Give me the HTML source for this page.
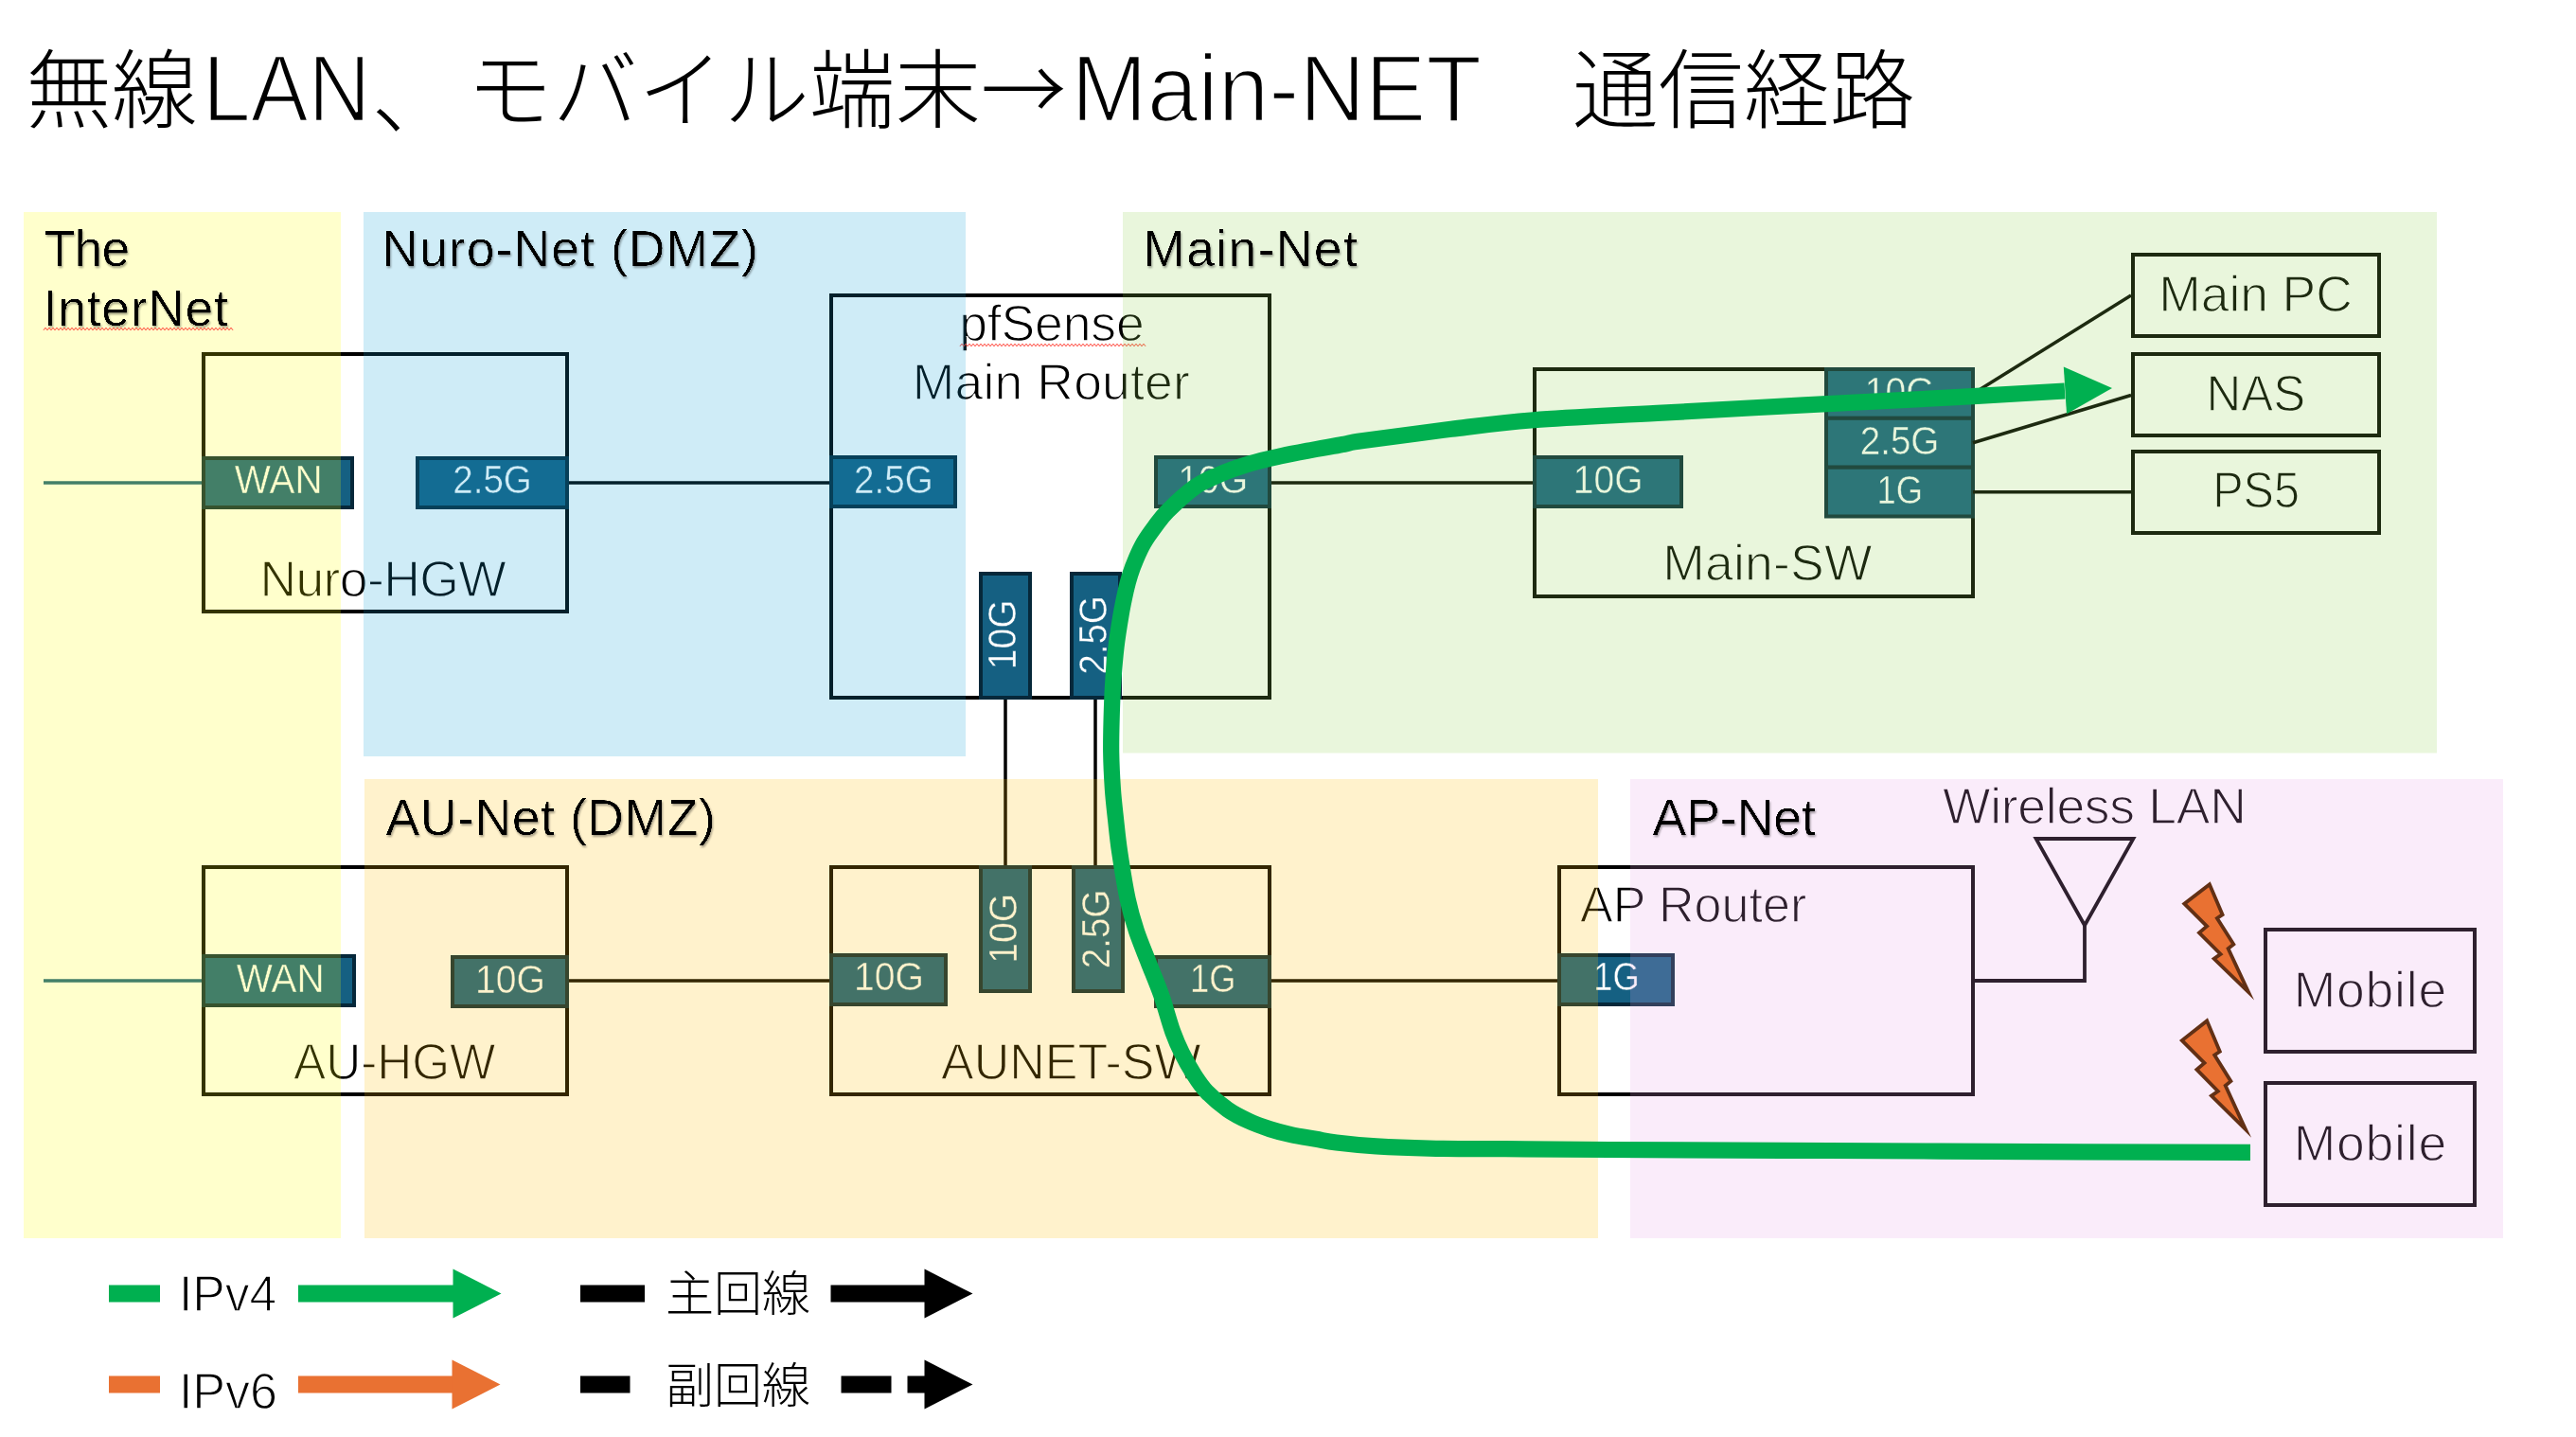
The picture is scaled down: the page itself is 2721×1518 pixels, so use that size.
<!DOCTYPE html>
<html lang="ja"><head><meta charset="utf-8"><title>無線LAN、モバイル端末→Main-NET 通信経路</title>
<style>html,body{margin:0;padding:0;background:#fff;}body{width:2721px;height:1518px;overflow:hidden;}svg{display:block;font-family:'Liberation Sans', 'Noto Sans CJK JP', sans-serif;}</style></head><body>
<svg width="2721" height="1518" viewBox="0 0 2721 1518">
<rect width="2721" height="1518" fill="#fff"/>
<defs><filter id="zlf" x="-2%" y="-5%" width="104%" height="110%" color-interpolation-filters="sRGB"><feGaussianBlur in="SourceAlpha" stdDeviation="0.7" result="b"/><feComponentTransfer in="b" result="thin"><feFuncA type="linear" slope="4" intercept="-2.7"/></feComponentTransfer><feGaussianBlur in="thin" stdDeviation="1.3" result="sb"/><feOffset in="sb" dx="1.2" dy="1.7" result="so"/><feComponentTransfer in="so" result="sh"><feFuncA type="linear" slope="0.36"/></feComponentTransfer><feMerge><feMergeNode in="sh"/><feMergeNode in="thin"/></feMerge></filter></defs>
<g id="devices">
<line x1="46" y1="510" x2="213" y2="510" stroke="#156082" stroke-width="3.5"/>
<line x1="46" y1="1036" x2="213" y2="1036" stroke="#156082" stroke-width="3.5"/>
<line x1="601" y1="510" x2="876" y2="510" stroke="#000" stroke-width="3.5"/>
<line x1="1343" y1="510" x2="1619" y2="510" stroke="#000" stroke-width="3.5"/>
<line x1="601" y1="1036" x2="876" y2="1036" stroke="#000" stroke-width="3.5"/>
<line x1="1343" y1="1036" x2="1645" y2="1036" stroke="#000" stroke-width="3.5"/>
<line x1="1062" y1="739" x2="1062" y2="914" stroke="#000" stroke-width="3.5"/>
<line x1="1157" y1="739" x2="1157" y2="914" stroke="#000" stroke-width="3.5"/>
<polyline points="2086,1036 2202,1036 2202,977" fill="none" stroke="#000" stroke-width="3.8"/>
<polygon points="2150.6,886 2253.4,886 2202,977.5" fill="none" stroke="#000" stroke-width="3.8" stroke-linejoin="miter"/>
<rect x="215.00" y="374.00" width="384.00" height="272.00" fill="none" stroke="#000" stroke-width="4"/>
<rect x="878.00" y="312.00" width="463.00" height="425.00" fill="none" stroke="#000" stroke-width="4"/>
<rect x="1621.00" y="390.00" width="463.00" height="240.00" fill="none" stroke="#000" stroke-width="4"/>
<rect x="2253.00" y="269.00" width="260.00" height="86.00" fill="none" stroke="#000" stroke-width="4"/>
<rect x="2253.00" y="374.00" width="260.00" height="86.00" fill="none" stroke="#000" stroke-width="4"/>
<rect x="2253.00" y="477.00" width="260.00" height="86.00" fill="none" stroke="#000" stroke-width="4"/>
<rect x="215.00" y="916.00" width="384.00" height="240.00" fill="none" stroke="#000" stroke-width="4"/>
<rect x="878.00" y="916.00" width="463.00" height="240.00" fill="none" stroke="#000" stroke-width="4"/>
<rect x="1647.00" y="916.00" width="437.00" height="240.00" fill="none" stroke="#000" stroke-width="4"/>
<rect x="2393.00" y="982.00" width="221.00" height="129.00" fill="none" stroke="#000" stroke-width="4"/>
<rect x="2393.00" y="1144.00" width="221.00" height="129.00" fill="none" stroke="#000" stroke-width="4"/>
<rect x="215.00" y="484.00" width="157.00" height="52.00" fill="#156082" stroke="#06283a" stroke-width="4"/>
<rect x="441.00" y="484.00" width="158.00" height="52.00" fill="#156082" stroke="#06283a" stroke-width="4"/>
<rect x="878.00" y="483.00" width="131.00" height="52.00" fill="#156082" stroke="#06283a" stroke-width="4"/>
<rect x="1221.00" y="483.00" width="120.00" height="52.00" fill="#156082" stroke="#06283a" stroke-width="4"/>
<rect x="1036.00" y="606.00" width="52.00" height="131.00" fill="#156082" stroke="#06283a" stroke-width="4"/>
<rect x="1132.00" y="606.00" width="51.00" height="131.00" fill="#156082" stroke="#06283a" stroke-width="4"/>
<rect x="1621.00" y="483.00" width="155.00" height="52.00" fill="#156082" stroke="#06283a" stroke-width="4"/>
<rect x="1929.00" y="390.00" width="155.00" height="51.80" fill="#156082" stroke="#06283a" stroke-width="4"/>
<rect x="1929.00" y="441.80" width="155.00" height="51.90" fill="#156082" stroke="#06283a" stroke-width="4"/>
<rect x="1929.00" y="493.70" width="155.00" height="51.80" fill="#156082" stroke="#06283a" stroke-width="4"/>
<rect x="215.00" y="1010.00" width="159.00" height="52.00" fill="#156082" stroke="#06283a" stroke-width="4"/>
<rect x="478.00" y="1011.00" width="121.00" height="52.00" fill="#156082" stroke="#06283a" stroke-width="4"/>
<rect x="878.00" y="1009.00" width="121.00" height="52.00" fill="#156082" stroke="#06283a" stroke-width="4"/>
<rect x="1036.00" y="916.00" width="52.00" height="131.00" fill="#156082" stroke="#06283a" stroke-width="4"/>
<rect x="1134.00" y="916.00" width="52.00" height="131.00" fill="#156082" stroke="#06283a" stroke-width="4"/>
<rect x="1221.00" y="1011.00" width="120.00" height="52.00" fill="#156082" stroke="#06283a" stroke-width="4"/>
<rect x="1647.00" y="1009.00" width="120.00" height="52.00" fill="#156082" stroke="#06283a" stroke-width="4"/>
<line x1="2084" y1="415.9" x2="2251" y2="312" stroke="#000" stroke-width="3.5"/>
<line x1="2084" y1="467.7" x2="2251" y2="417.5" stroke="#000" stroke-width="3.5"/>
<line x1="2084" y1="519.8" x2="2251" y2="519.8" stroke="#000" stroke-width="3.5"/>
<g id="port-labels" opacity="0.999">
<text x="247.8" y="521" font-size="42" textLength="92.8" lengthAdjust="spacingAndGlyphs" fill="#fff" stroke="#156082" stroke-width="0.5">WAN</text>
<text x="478.2" y="521" font-size="42" textLength="83.7" lengthAdjust="spacingAndGlyphs" fill="#fff" stroke="#156082" stroke-width="0.5">2.5G</text>
<text x="902.1" y="521" font-size="42" textLength="83.7" lengthAdjust="spacingAndGlyphs" fill="#fff" stroke="#156082" stroke-width="0.5">2.5G</text>
<text x="1244.3" y="521" font-size="42" textLength="73.9" lengthAdjust="spacingAndGlyphs" fill="#fff" stroke="#156082" stroke-width="0.5">10G</text>
<text x="1661.8" y="521" font-size="42" textLength="73.9" lengthAdjust="spacingAndGlyphs" fill="#fff" stroke="#156082" stroke-width="0.5">10G</text>
<text x="1969.8" y="427.6" font-size="42" textLength="73.9" lengthAdjust="spacingAndGlyphs" fill="#fff" stroke="#156082" stroke-width="0.5">10G</text>
<text x="1964.7" y="480" font-size="42" textLength="83.7" lengthAdjust="spacingAndGlyphs" fill="#fff" stroke="#156082" stroke-width="0.5">2.5G</text>
<text x="1982.5" y="532.2" font-size="42" textLength="48.5" lengthAdjust="spacingAndGlyphs" fill="#fff" stroke="#156082" stroke-width="0.5">1G</text>
<text x="249.8" y="1047.5" font-size="42" textLength="92.8" lengthAdjust="spacingAndGlyphs" fill="#fff" stroke="#156082" stroke-width="0.5">WAN</text>
<text x="502.0" y="1048.5" font-size="42" textLength="73.9" lengthAdjust="spacingAndGlyphs" fill="#fff" stroke="#156082" stroke-width="0.5">10G</text>
<text x="902.1" y="1045.5" font-size="42" textLength="73.9" lengthAdjust="spacingAndGlyphs" fill="#fff" stroke="#156082" stroke-width="0.5">10G</text>
<text x="1257.0" y="1048" font-size="42" textLength="48.5" lengthAdjust="spacingAndGlyphs" fill="#fff" stroke="#156082" stroke-width="0.5">1G</text>
<text x="1683.2" y="1045.5" font-size="42" textLength="48.5" lengthAdjust="spacingAndGlyphs" fill="#fff" stroke="#156082" stroke-width="0.5">1G</text>
<text transform="translate(1073.3 707.2) rotate(-90)" font-size="42" textLength="73.9" lengthAdjust="spacingAndGlyphs" fill="#fff" stroke="#156082" stroke-width="0.5">10G</text>
<text transform="translate(1169.4 712.8) rotate(-90)" font-size="42" textLength="83.7" lengthAdjust="spacingAndGlyphs" fill="#fff" stroke="#156082" stroke-width="0.5">2.5G</text>
<text transform="translate(1073.5 1017.7) rotate(-90)" font-size="42" textLength="73.9" lengthAdjust="spacingAndGlyphs" fill="#fff" stroke="#156082" stroke-width="0.5">10G</text>
<text transform="translate(1171.5 1023.3) rotate(-90)" font-size="42" textLength="83.7" lengthAdjust="spacingAndGlyphs" fill="#fff" stroke="#156082" stroke-width="0.5">2.5G</text>
</g>
<text x="1013.2" y="360" font-size="53.5" letter-spacing="-0.13" fill="#000" stroke="#fff" stroke-width="1.3">pfSense</text>
<text x="963.8" y="422" font-size="53.5" letter-spacing="0.15" fill="#000" stroke="#fff" stroke-width="1.3">Main Router</text>
<text x="274.4" y="629.5" font-size="53.5" letter-spacing="-0.58" fill="#000" stroke="#fff" stroke-width="1.3">Nuro-HGW</text>
<text x="1756.3" y="613" font-size="53.5" letter-spacing="0.20" fill="#000" stroke="#fff" stroke-width="1.3">Main-SW</text>
<text x="2280.3" y="329" font-size="53.5" letter-spacing="-0.10" fill="#000" stroke="#fff" stroke-width="1.3">Main PC</text>
<text x="2330.5" y="434" font-size="53.5" textLength="104.6" lengthAdjust="spacingAndGlyphs" fill="#000" stroke="#fff" stroke-width="1.3">NAS</text>
<text x="2337.2" y="536" font-size="53.5" textLength="91.8" lengthAdjust="spacingAndGlyphs" fill="#000" stroke="#fff" stroke-width="1.3">PS5</text>
<text x="310.0" y="1140" font-size="53.5" textLength="213.5" lengthAdjust="spacingAndGlyphs" fill="#000" stroke="#fff" stroke-width="1.3">AU-HGW</text>
<text x="994.0" y="1139.5" font-size="53.5" textLength="274.5" lengthAdjust="spacingAndGlyphs" fill="#000" stroke="#fff" stroke-width="1.3">AUNET-SW</text>
<text x="1669.0" y="974" font-size="53.5" textLength="239.3" lengthAdjust="spacingAndGlyphs" fill="#000" stroke="#fff" stroke-width="1.3">AP Router</text>
<text x="2052.0" y="870" font-size="53.5" letter-spacing="-0.29" fill="#000" stroke="#fff" stroke-width="1.3">Wireless LAN</text>
<text x="2422.8" y="1063.9" font-size="53.5" letter-spacing="0.75" fill="#000" stroke="#fff" stroke-width="1.3">Mobile</text>
<text x="2422.8" y="1226.2" font-size="53.5" letter-spacing="0.75" fill="#000" stroke="#fff" stroke-width="1.3">Mobile</text>
<polyline points="1014.0,365.8 1016.0,363.2 1018.0,365.8 1020.0,363.2 1022.0,365.8 1024.0,363.2 1026.0,365.8 1028.0,363.2 1030.0,365.8 1032.0,363.2 1034.0,365.8 1036.0,363.2 1038.0,365.8 1040.0,363.2 1042.0,365.8 1044.0,363.2 1046.0,365.8 1048.0,363.2 1050.0,365.8 1052.0,363.2 1054.0,365.8 1056.0,363.2 1058.0,365.8 1060.0,363.2 1062.0,365.8 1064.0,363.2 1066.0,365.8 1068.0,363.2 1070.0,365.8 1072.0,363.2 1074.0,365.8 1076.0,363.2 1078.0,365.8 1080.0,363.2 1082.0,365.8 1084.0,363.2 1086.0,365.8 1088.0,363.2 1090.0,365.8 1092.0,363.2 1094.0,365.8 1096.0,363.2 1098.0,365.8 1100.0,363.2 1102.0,365.8 1104.0,363.2 1106.0,365.8 1108.0,363.2 1110.0,365.8 1112.0,363.2 1114.0,365.8 1116.0,363.2 1118.0,365.8 1120.0,363.2 1122.0,365.8 1124.0,363.2 1126.0,365.8 1128.0,363.2 1130.0,365.8 1132.0,363.2 1134.0,365.8 1136.0,363.2 1138.0,365.8 1140.0,363.2 1142.0,365.8 1144.0,363.2 1146.0,365.8 1148.0,363.2 1150.0,365.8 1152.0,363.2 1154.0,365.8 1156.0,363.2 1158.0,365.8 1160.0,363.2 1162.0,365.8 1164.0,363.2 1166.0,365.8 1168.0,363.2 1170.0,365.8 1172.0,363.2 1174.0,365.8 1176.0,363.2 1178.0,365.8 1180.0,363.2 1182.0,365.8 1184.0,363.2 1186.0,365.8 1188.0,363.2 1190.0,365.8 1192.0,363.2 1194.0,365.8 1196.0,363.2 1198.0,365.8 1200.0,363.2 1202.0,365.8 1204.0,363.2 1206.0,365.8 1208.0,363.2 1210.0,365.8" fill="none" stroke="#ff3b30" stroke-width="1"/>
</g>
<g id="zones">
<rect x="25" y="224" width="335" height="1084" fill="#ffff00" fill-opacity="0.2"/>
<rect x="384" y="224" width="636" height="575" fill="#0f9ed5" fill-opacity="0.2"/>
<rect x="1186" y="224" width="1388" height="571.5" fill="#92d050" fill-opacity="0.2"/>
<rect x="385" y="823" width="1303" height="485" fill="#ffc000" fill-opacity="0.2"/>
<rect x="1722" y="823" width="922" height="485" fill="#e59ee5" fill-opacity="0.2"/>
</g>
<g id="zone-labels" filter="url(#zlf)">
<text x="46.7" y="281" font-size="53.5" letter-spacing="-0.84" fill="#000">The</text>
<text x="45.8" y="344" font-size="53.5" letter-spacing="0.67" fill="#000">InterNet</text>
<text x="403.3" y="281" font-size="53.5" letter-spacing="1.08" fill="#000">Nuro-Net (DMZ)</text>
<text x="1207.3" y="281" font-size="53.5" letter-spacing="1.35" fill="#000">Main-Net</text>
<text x="407.5" y="881.5" font-size="53.5" letter-spacing="0.59" fill="#000">AU-Net (DMZ)</text>
<text x="1745.5" y="881.5" font-size="53.5" fill="#000">AP-Net</text>
</g>
<polyline points="46.0,348.8 48.0,346.2 50.0,348.8 52.0,346.2 54.0,348.8 56.0,346.2 58.0,348.8 60.0,346.2 62.0,348.8 64.0,346.2 66.0,348.8 68.0,346.2 70.0,348.8 72.0,346.2 74.0,348.8 76.0,346.2 78.0,348.8 80.0,346.2 82.0,348.8 84.0,346.2 86.0,348.8 88.0,346.2 90.0,348.8 92.0,346.2 94.0,348.8 96.0,346.2 98.0,348.8 100.0,346.2 102.0,348.8 104.0,346.2 106.0,348.8 108.0,346.2 110.0,348.8 112.0,346.2 114.0,348.8 116.0,346.2 118.0,348.8 120.0,346.2 122.0,348.8 124.0,346.2 126.0,348.8 128.0,346.2 130.0,348.8 132.0,346.2 134.0,348.8 136.0,346.2 138.0,348.8 140.0,346.2 142.0,348.8 144.0,346.2 146.0,348.8 148.0,346.2 150.0,348.8 152.0,346.2 154.0,348.8 156.0,346.2 158.0,348.8 160.0,346.2 162.0,348.8 164.0,346.2 166.0,348.8 168.0,346.2 170.0,348.8 172.0,346.2 174.0,348.8 176.0,346.2 178.0,348.8 180.0,346.2 182.0,348.8 184.0,346.2 186.0,348.8 188.0,346.2 190.0,348.8 192.0,346.2 194.0,348.8 196.0,346.2 198.0,348.8 200.0,346.2 202.0,348.8 204.0,346.2 206.0,348.8 208.0,346.2 210.0,348.8 212.0,346.2 214.0,348.8 216.0,346.2 218.0,348.8 220.0,346.2 222.0,348.8 224.0,346.2 226.0,348.8 228.0,346.2 230.0,348.8 232.0,346.2 234.0,348.8 236.0,346.2 238.0,348.8 240.0,346.2 242.0,348.8 244.0,346.2 246.0,348.8" fill="none" stroke="#ff3b30" stroke-width="1"/>
<polygon points="2333.9,934.2 2347.6,966.2 2341.9,970.0 2359.3,997.5 2353.6,1002.0 2375.0,1048.0 2338.7,1012.8 2345.6,1007.9 2323.0,985.3 2331.1,978.4 2307.3,954.7" fill="#e97132" stroke="#623015" stroke-width="3.8" stroke-linejoin="miter" stroke-miterlimit="8"/>
<polygon points="2331.2,1078.4 2344.8,1110.7 2339.2,1114.5 2356.4,1142.2 2350.7,1146.8 2372.0,1193.1 2335.9,1157.6 2342.8,1152.7 2320.4,1129.9 2328.5,1122.9 2304.8,1099.1" fill="#e97132" stroke="#623015" stroke-width="3.8" stroke-linejoin="miter" stroke-miterlimit="8"/>
<path d="M2377,1217.3 C2347.5,1217.2 2274.2,1217.1 2200,1216.8 C2125.8,1216.5 2015.3,1215.9 1932,1215.5 C1848.7,1215.1 1757.0,1214.8 1700,1214.5 C1643.0,1214.2 1621.8,1213.9 1590,1213.7 C1558.2,1213.5 1532.2,1213.6 1509.5,1213.1 C1486.8,1212.6 1469.9,1211.9 1453.6,1210.9 C1437.3,1209.9 1422.3,1208.3 1411.7,1207 C1401.1,1205.7 1398.0,1204.7 1390,1203.3 C1382.0,1201.9 1371.7,1200.4 1363.6,1198.6 C1355.5,1196.8 1348.8,1195.1 1341.4,1192.7 C1334.0,1190.3 1326.5,1187.7 1319.1,1184.3 C1311.7,1180.9 1304.2,1177.3 1296.8,1172.1 C1289.4,1166.9 1280.5,1159.4 1274.5,1153.1 C1268.5,1146.8 1265.1,1141.3 1260.8,1134.5 C1256.5,1127.7 1252.1,1119.7 1248.4,1112.3 C1244.7,1104.9 1242.5,1100.3 1238.8,1090 C1235.1,1079.7 1230.6,1062.4 1226.3,1050.2 C1222.0,1038.0 1217.5,1027.9 1213.2,1016.8 C1208.9,1005.7 1204.1,994.5 1200.4,983.4 C1196.7,972.3 1194.2,963.9 1191.2,950 C1188.2,936.1 1184.8,914.1 1182.7,900.2 C1180.6,886.3 1179.9,877.9 1178.7,866.8 C1177.5,855.7 1176.2,845.4 1175.4,833.4 C1174.6,821.4 1173.9,808.9 1173.7,795 C1173.5,781.1 1174.0,763.2 1174.4,750.2 C1174.8,737.2 1175.2,727.9 1176,716.8 C1176.8,705.7 1177.7,694.5 1179,683.4 C1180.3,672.3 1182.3,660.0 1184,650 C1185.7,640.0 1187.7,630.7 1189.3,623.5 C1190.9,616.3 1192.0,612.4 1193.8,606.8 C1195.6,601.2 1197.7,595.7 1200.1,590.1 C1202.5,584.5 1204.9,579.0 1208.2,573.4 C1211.5,567.8 1215.5,562.3 1219.7,556.7 C1223.9,551.1 1226.2,547.0 1233.2,540 C1240.2,533.0 1252.9,521.1 1261.8,514.7 C1270.7,508.3 1277.1,506.0 1286.8,501.8 C1296.5,497.6 1309.1,493.2 1320.2,489.8 C1331.3,486.4 1342.5,484.1 1353.6,481.7 C1364.7,479.2 1375.9,477.2 1387,475.1 C1398.1,473.0 1411.2,470.8 1420,469.2 C1428.8,467.6 1421.2,468.2 1440,465.6 C1458.8,463.0 1503.0,457.0 1533,453.3 C1563.0,449.6 1583.7,446.5 1620,443.7 C1656.3,440.9 1703.0,439.0 1750.6,436.4 C1798.2,433.8 1854.1,430.6 1905.8,427.8 C1957.5,425.1 2015.1,422.4 2061,419.9 C2106.9,417.4 2161.0,414.1 2181,413" fill="none" stroke="#00b050" stroke-width="17.2"/>
<polygon points="2179.8,387.6 2231,410 2183,437.3" fill="#00b050"/>
<g id="legend">
<line x1="115" y1="1366.5" x2="169" y2="1366.5" stroke="#00b050" stroke-width="18"/>
<line x1="315" y1="1366.5" x2="479.5" y2="1366.5" stroke="#00b050" stroke-width="18"/>
<polygon points="478.5,1340.5 529.5,1366.5 478.5,1392.5" fill="#00b050"/>
<line x1="115" y1="1462.5" x2="169" y2="1462.5" stroke="#e97132" stroke-width="18"/>
<line x1="315" y1="1462.5" x2="478.5" y2="1462.5" stroke="#e97132" stroke-width="18"/>
<polygon points="477.5,1436.5 528.5,1462.5 477.5,1488.5" fill="#e97132"/>
<line x1="613" y1="1366.5" x2="681" y2="1366.5" stroke="#000" stroke-width="18"/>
<line x1="877.5" y1="1366.5" x2="977.5" y2="1366.5" stroke="#000" stroke-width="18"/>
<polygon points="976.5,1340.5 1027.5,1366.5 976.5,1392.5" fill="#000"/>
<line x1="613" y1="1462.5" x2="665.5" y2="1462.5" stroke="#000" stroke-width="18"/>
<line x1="888.5" y1="1462.5" x2="941.5" y2="1462.5" stroke="#000" stroke-width="18"/>
<line x1="958.5" y1="1462.5" x2="977.5" y2="1462.5" stroke="#000" stroke-width="18"/>
<polygon points="976.5,1436.5 1027.5,1462.5 976.5,1488.5" fill="#000"/>
<text x="189.0" y="1385" font-size="53.5" textLength="103.3" lengthAdjust="spacingAndGlyphs" fill="#000" stroke="#fff" stroke-width="1.3">IPv4</text>
<text x="188.9" y="1488" font-size="53.5" textLength="104.2" lengthAdjust="spacingAndGlyphs" fill="#000" stroke="#fff" stroke-width="1.3">IPv6</text>
<text x="703" y="1385" font-size="51" font-weight="300">主回線</text>
<text x="703" y="1482" font-size="51" font-weight="300">副回線</text>
</g>
<text id="title" font-size="90.5" font-weight="300" fill="#000"><tspan x="27.5" y="128">無線</tspan><tspan x="213.9" y="128" font-size="101" textLength="177.6" lengthAdjust="spacingAndGlyphs" fill="#000" stroke="#fff" stroke-width="2.6" font-weight="400">LAN</tspan><tspan x="392.5" y="134">、</tspan><tspan x="493" y="128">モバイル端末</tspan><tspan x="1036" y="128" font-family='"Noto Sans CJK JP", "Liberation Sans", sans-serif'>→</tspan><tspan x="1131.5" y="128" font-size="101" textLength="433.7" lengthAdjust="spacingAndGlyphs" fill="#000" stroke="#fff" stroke-width="2.6" font-weight="400">Main-NET</tspan><tspan x="1570" y="128">　</tspan><tspan x="1661" y="128">通信経路</tspan></text>
</svg></body></html>
